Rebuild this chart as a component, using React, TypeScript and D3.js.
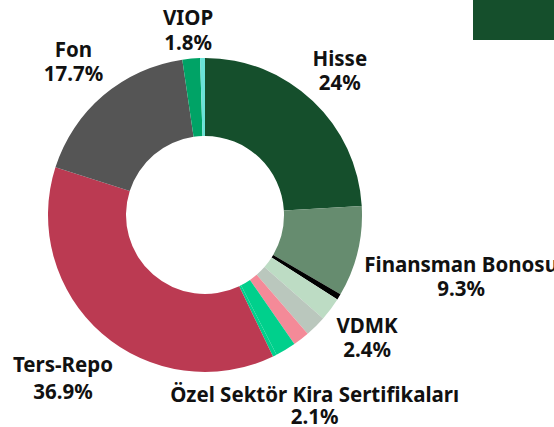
import React from "react";
import * as d3 from "d3";

const categories = [
  "Hisse",
  "Finansman Bonosu",
  "Devlet Tahvili",
  "VDMK",
  "Kamu Kira Sertifikaları",
  "Takasbank Para Piyasası",
  "Özel Sektör Kira Sertifikaları",
  "Özel Sektör Tahvili",
  "Ters-Repo",
  "Fon",
  "VIOP",
  "Mevduat",
];
const values = [24, 9.3, 0.6, 2.4, 2.2, 1.7, 2.1, 0.4, 36.9, 17.7, 1.8, 0.5];
const colors = [
  "#154f2c",
  "#668c6f",
  "#000000",
  "#bddcc4",
  "#bac7bd",
  "#f48a98",
  "#00d08c",
  "#00d08c",
  "#bb3a52",
  "#555555",
  "#00a366",
  "#6ae3d8",
];
const labelled = ["Hisse", "Finansman Bonosu", "VDMK", "Özel Sektör Kira Sertifikaları", "Ters-Repo", "Fon", "VIOP"];
const percentLabels = ["24%", "9.3%", "", "2.4%", "", "", "2.1%", "", "36.9%", "17.7%", "1.8%", ""];
// label layout: offset from the slice's outer mid point, and gap between the two lines
const labelLayout: Record<string, [number, number, number]> = {
  "Hisse": [27, -34.8, 23.5],
  "Finansman Bonosu": [103.5, 20.5, 23.5],
  "VDMK": [36.5, 24, 24],
  "Özel Sektör Kira Sertifikaları": [29, 51.8, 22],
  "Ters-Repo": [-39, 38.2, 27.5],
  "Fon": [-30, -38.3, 24],
  "VIOP": [-3, -33.3, 24.5],
};

const W = 554;
const H = 427;
const cx = 205;
const cy = 215;
const outerR = 157;
const innerR = 79;

export default function App() {
  const data = categories.map((c, i) => ({ name: c, value: values[i], color: colors[i], pct: percentLabels[i] }));
  const pie = d3.pie<any>().value((d) => d.value).sort(null);
  const arcs = pie(data);
  const arc = d3.arc<any>().innerRadius(innerR).outerRadius(outerR);
  const font = "'Noto Sans', Roboto, sans-serif";
  return (
    <svg width={W} height={H} style={{ position: "fixed", left: 0, top: 0, background: "#fff" }}>
      <rect x={0} y={0} width={W} height={H} fill="#ffffff" />
      <rect x={473} y={0} width={81} height={40} fill="#154f2c" />
      <g transform={`translate(${cx},${cy})`}>
        {arcs.map((a, i) => (
          <path key={i} d={arc(a) as string} fill={a.data.color} />
        ))}
      </g>
      {arcs.map((a, i) => {
        if (!labelled.includes(a.data.name)) return null;
        const mid = (a.startAngle + a.endAngle) / 2;
        const px = cx + outerR * Math.sin(mid);
        const py = cy - outerR * Math.cos(mid);
        const [dx, dy, gap] = labelLayout[a.data.name];
        const x = px + dx;
        const y = py + dy;
        return (
          <text key={"l" + i} x={x} y={y} textAnchor="middle" fontFamily={font} fontWeight={700} fontSize={20.5} fill="#111">
            <tspan x={x} y={y}>{a.data.name}</tspan>
            <tspan x={x} y={y + gap}>{a.data.pct}</tspan>
          </text>
        );
      })}
    </svg>
  );
}
